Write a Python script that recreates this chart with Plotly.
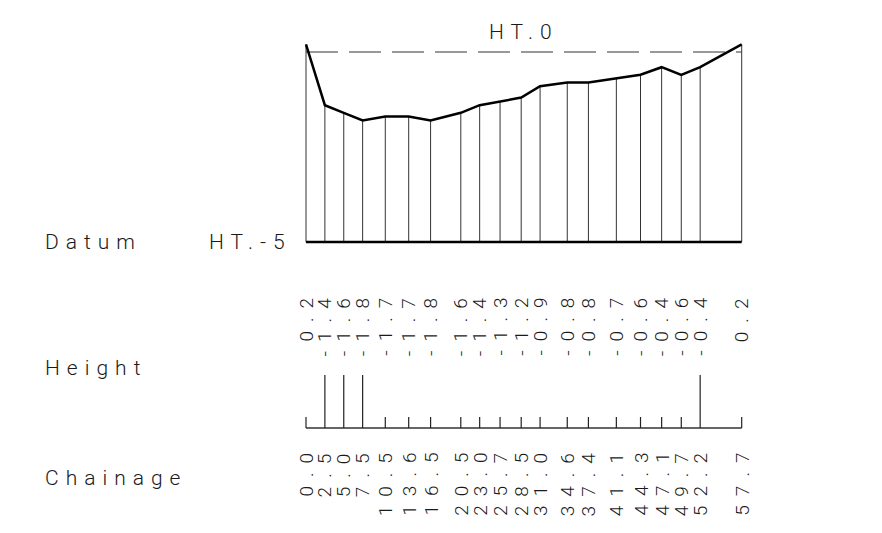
import plotly.graph_objects as go

# ---- data ----
chainage = [0.0, 2.5, 5.0, 7.5, 10.5, 13.6, 16.5, 20.5, 23.0, 25.7,
            28.5, 31.0, 34.6, 37.4, 41.1, 44.3, 47.1, 49.7, 52.2, 57.7]
height = [0.2, -1.4, -1.6, -1.8, -1.7, -1.7, -1.8, -1.6, -1.4, -1.3,
          -1.2, -0.9, -0.8, -0.8, -0.7, -0.6, -0.4, -0.6, -0.4, 0.2]
tall_tick = [False, True, True, True, False, False, False, False, False, False,
             False, False, False, False, False, False, False, False, True, False]
datum_level = -5
reference_level = 0
row_labels = ["Datum", "Height", "Chainage"]

# ---- layout constants ----
W, H = 882, 533
px_per_ch = 7.551
px_per_ht = 38.0
x0_px, y0_px = 306, 52
xr = [-x0_px / px_per_ch, (W - x0_px) / px_per_ch]
yr = [-(H - y0_px) / px_per_ht, y0_px / px_per_ht]

def ypx(p):
    return -(p - y0_px) / px_per_ht

band_base = ypx(428)
short_top = ypx(417)
tall_top = ypx(375)
height_lbl_top = ypx(287)
chain_lbl_top = ypx(442)

FONT = "Roboto, 'Open Sans', 'DejaVu Sans', sans-serif"
INK = "#1a1a1a"

def spaced(t, ls=6):
    return f'<span style="letter-spacing:{ls}px">{t}</span>'

fig = go.Figure()

# vertical lines from ground to datum
vx, vy = [], []
for c, h in zip(chainage, height):
    vx += [c, c, None]
    vy += [h, datum_level, None]
fig.add_trace(go.Scatter(x=vx, y=vy, mode="lines",
                         line=dict(color="#333", width=1), hoverinfo="skip"))

# reference dashed line HT.0
fig.add_trace(go.Scatter(x=[chainage[0], chainage[-1]], y=[reference_level] * 2,
                         mode="lines",
                         line=dict(color="#333", width=1, dash="32px,11px"),
                         hoverinfo="skip"))

# datum line
fig.add_trace(go.Scatter(x=[chainage[0], chainage[-1]], y=[datum_level] * 2,
                         mode="lines", line=dict(color="#000", width=2.5),
                         hoverinfo="skip"))

# ground profile
fig.add_trace(go.Scatter(x=chainage, y=height, mode="lines",
                         line=dict(color="#000", width=2.5), hoverinfo="skip"))

# tick band
fig.add_trace(go.Scatter(x=[chainage[0], chainage[-1]], y=[band_base] * 2,
                         mode="lines", line=dict(color="#333", width=1.5),
                         hoverinfo="skip"))
tx, ty = [], []
for c, t in zip(chainage, tall_tick):
    tx += [c, c, None]
    ty += [band_base, tall_top if t else short_top, None]
fig.add_trace(go.Scatter(x=tx, y=ty, mode="lines",
                         line=dict(color="#222", width=1.2), hoverinfo="skip"))

ann = []
# rotated height labels
for c, h in zip(chainage, height):
    ann.append(dict(x=c, y=height_lbl_top, xref="x", yref="y",
                    text=spaced(f"{h:.1f}", 9), textangle=-90,
                    xanchor="center", yanchor="top", showarrow=False,
                    font=dict(family=FONT, size=19, color=INK, weight=300)))
# rotated chainage labels
for c in chainage:
    ann.append(dict(x=c, y=chain_lbl_top, xref="x", yref="y",
                    text=spaced(f"{c:.1f}", 9), textangle=-90,
                    xanchor="center", yanchor="top", showarrow=False,
                    font=dict(family=FONT, size=19, color=INK, weight=300)))

# HT.0 label
ann.append(dict(x=(chainage[0] + chainage[-1]) / 2, y=reference_level,
                xref="x", yref="y", text=spaced("HT.0", 7), showarrow=False,
                xanchor="center", yanchor="bottom", yshift=6,
                font=dict(family=FONT, size=21, color=INK, weight=300)))

# row labels on the left
for lbl, yv in zip(row_labels, [datum_level, ypx(368), ypx(478)]):
    ann.append(dict(x=43 / W, y=yv, xref="paper", yref="y",
                    text=spaced(lbl, 7), showarrow=False,
                    xanchor="left", yanchor="middle",
                    font=dict(family=FONT, size=21, color=INK, weight=300)))
ann.append(dict(x=chainage[0], y=datum_level, xref="x", yref="y",
                text=spaced(f"HT.{datum_level}", 7), showarrow=False,
                xanchor="right", yanchor="middle", xshift=-12,
                font=dict(family=FONT, size=21, color=INK, weight=300)))

fig.update_layout(
    width=W, height=H, margin=dict(l=0, r=0, t=0, b=0),
    paper_bgcolor="white", plot_bgcolor="white", showlegend=False,
    xaxis=dict(range=xr, visible=False, fixedrange=True),
    yaxis=dict(range=yr, visible=False, fixedrange=True),
    annotations=ann,
)

fig.write_html("out.html", config={"displayModeBar": False},
               post_script="document.body.style.margin='0';")
